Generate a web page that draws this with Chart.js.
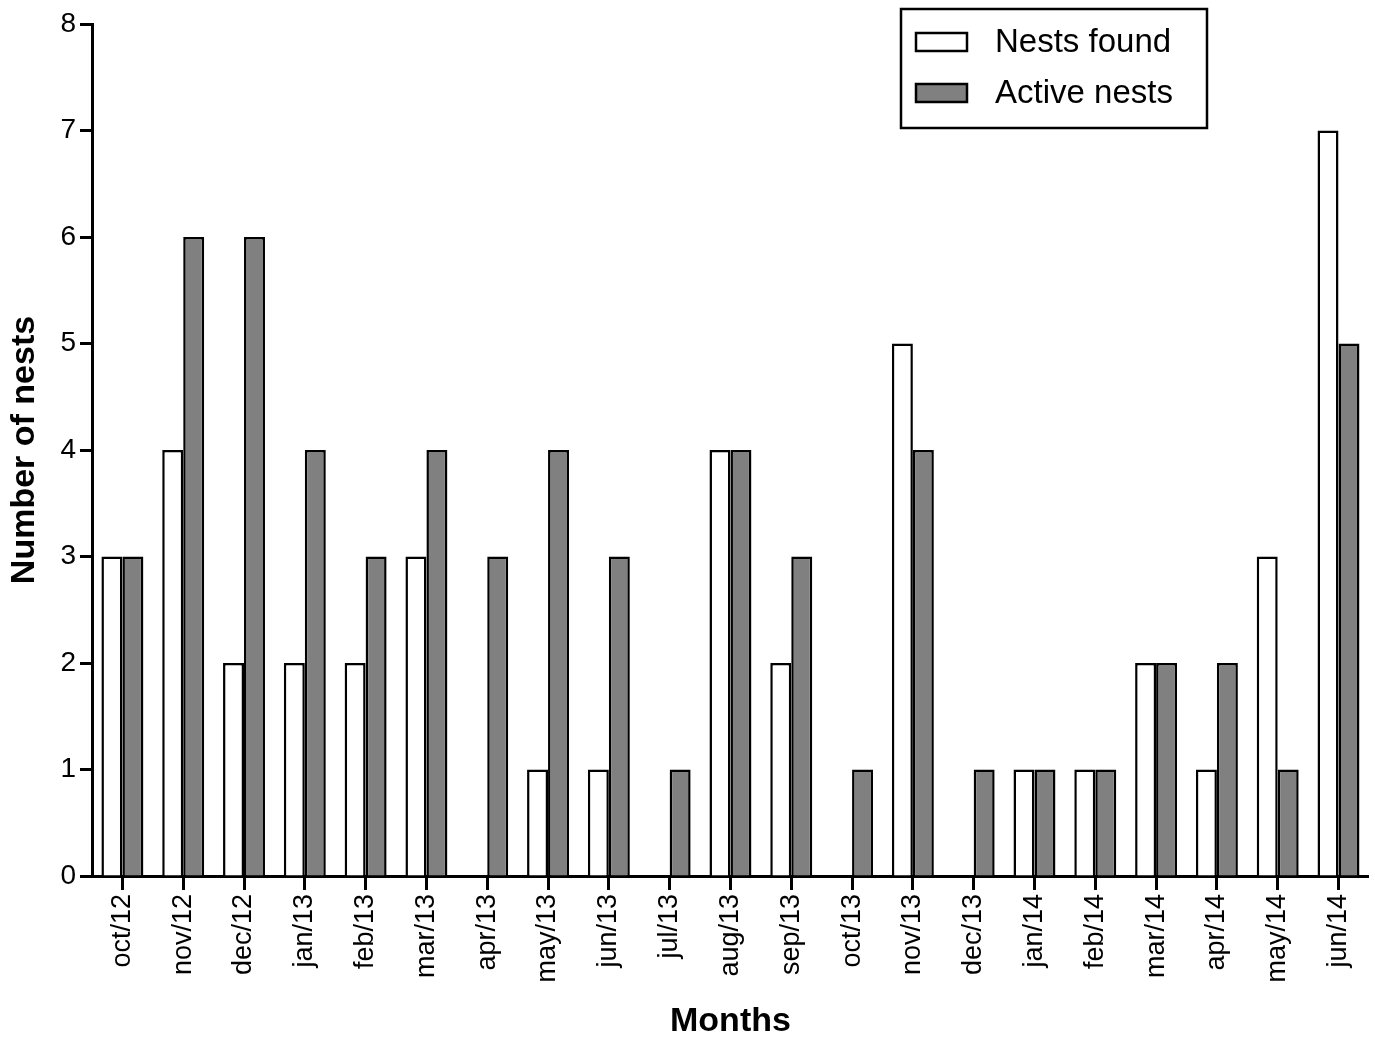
<!DOCTYPE html>
<html>
<head>
<meta charset="utf-8">
<script src="https://cdn.jsdelivr.net/npm/chart.js@4.4.0/dist/chart.umd.min.js"></script>
<style>
  html, body { margin: 0; padding: 0; background: #fff; }
  #wrap { width: 1375px; height: 1039px; }
</style>
</head>
<body>
<div id="wrap"><canvas id="c" width="1375" height="1039"></canvas></div>
<script>
const months = ['oct/12','nov/12','dec/12','jan/13','feb/13','mar/13','apr/13','may/13','jun/13','jul/13','aug/13','sep/13','oct/13','nov/13','dec/13','jan/14','feb/14','mar/14','apr/14','may/14','jun/14'];
const nestsFound  = [3, 4, 2, 2, 2, 3, 0, 1, 1, 0, 4, 2, 0, 5, 0, 1, 1, 2, 1, 3, 7];
const activeNests = [3, 6, 6, 4, 3, 4, 3, 4, 3, 1, 4, 3, 1, 4, 1, 1, 1, 2, 2, 1, 5];
const seriesNames = ['Nests found', 'Active nests'];
const yTicks = [0, 1, 2, 3, 4, 5, 6, 7, 8];

const FONT = "'Liberation Sans', Arial, Helvetica, sans-serif";

// Framed legend in the top-right corner
const boxedLegend = {
  id: 'boxedLegend',
  afterDraw(chart) {
    const ctx = chart.ctx;
    const x0 = 901, y0 = 9, w = 306, h = 119;
    ctx.save();
    ctx.lineWidth = 2.5;
    ctx.strokeStyle = '#000';
    ctx.strokeRect(x0, y0, w, h);
    ctx.font = '33px ' + FONT;
    ctx.textBaseline = 'middle';
    const rows = [42, 93];
    chart.data.datasets.forEach((ds, i) => {
      const cy = rows[i];
      ctx.fillStyle = ds.backgroundColor;
      ctx.fillRect(916, cy - 9, 51, 18);
      ctx.lineWidth = 2.5;
      ctx.strokeStyle = '#000';
      ctx.strokeRect(916, cy - 9, 51, 18);
      ctx.fillStyle = '#000';
      ctx.fillText(ds.label, 995, cy + 1);
    });
    ctx.restore();
  }
};

new Chart(document.getElementById('c'), {
  type: 'bar',
  data: {
    labels: months,
    datasets: [
      { label: seriesNames[0], data: nestsFound, backgroundColor: '#ffffff', borderColor: '#000', borderWidth: 2.5, borderSkipped: 'bottom' },
      { label: seriesNames[1], data: activeNests, backgroundColor: '#808080', borderColor: '#000', borderWidth: 2.5, borderSkipped: 'bottom' }
    ]
  },
  options: {
    responsive: false,
    animation: false,
    devicePixelRatio: 1,
    layout: { padding: { top: 24, right: 4, left: 0, bottom: 0 } },
    datasets: { bar: { categoryPercentage: 0.69, barPercentage: 1.0 } },
    plugins: { legend: { display: false }, tooltip: { enabled: false } },
    scales: {
      x: {
        offset: true,
        grid: { display: true, drawOnChartArea: false, drawTicks: true, offset: false, tickLength: 14, tickWidth: 3, tickColor: '#000' },
        border: { display: true, color: '#000', width: 3 },
        ticks: { color: '#000', font: { family: FONT, size: 27 }, minRotation: 90, maxRotation: 90, padding: 4, autoSkip: false },
        title: { display: true, text: 'Months', color: '#000', font: { family: FONT, size: 34, weight: 'bold', lineHeight: 1 }, padding: { top: 0, bottom: 0 } },
        afterFit(scale) { scale.height = 163; }
      },
      y: {
        min: 0, max: 8,
        afterBuildTicks(scale) { scale.ticks = yTicks.map(v => ({ value: v })); },
        grid: { display: true, drawOnChartArea: false, drawTicks: true, tickLength: 12, tickWidth: 3, tickColor: '#000' },
        border: { display: true, color: '#000', width: 3 },
        ticks: { color: '#000', font: { family: FONT, size: 28 }, padding: 4 },
        title: { display: true, text: 'Number of nests', color: '#000', font: { family: FONT, size: 34, weight: 'bold', lineHeight: 1 }, padding: { top: 8, bottom: 0 } },
        afterFit(scale) { scale.width = 92; }
      }
    }
  },
  plugins: [boxedLegend]
});
</script>
</body>
</html>
